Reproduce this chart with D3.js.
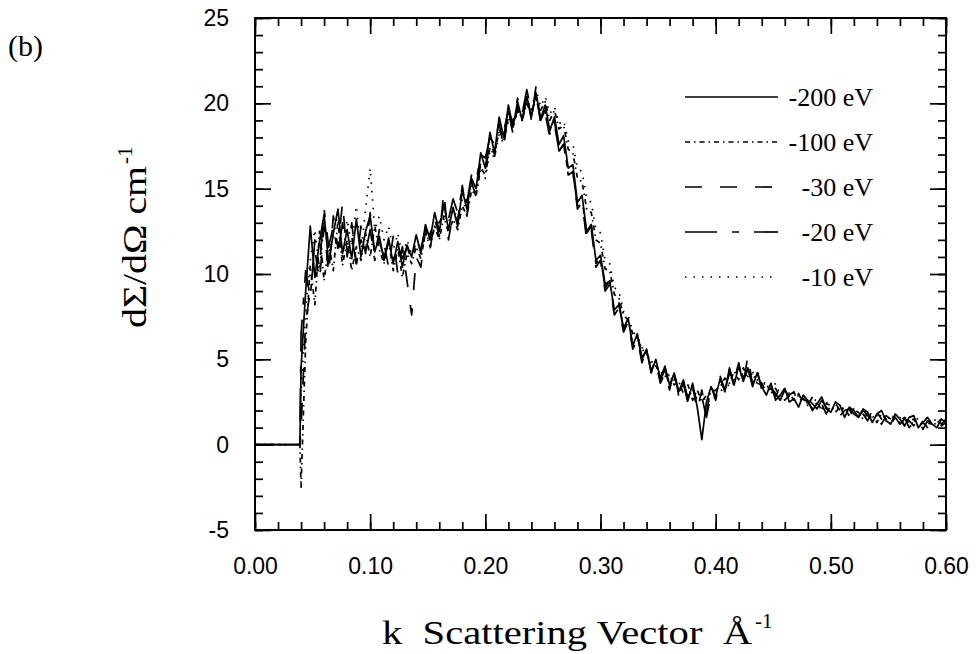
<!DOCTYPE html>
<html>
<head>
<meta charset="utf-8">
<script src="https://cdn.jsdelivr.net/npm/d3@7"></script>
<style>
  body { margin: 0; background: #fff; }
  svg { display: block; }
</style>
</head>
<body>
<script>
// Scattering vector grid, 0.040 .. 0.600 step 0.004 (141 points)
const kValues = d3.range(141).map(i => +(0.040 + i * 0.004).toFixed(3));
// flat leading part before the detector edge
const leadK = [0.000, 0.039];
const leadY = [0, 0];

const seriesNames = ["-200 eV", "-100 eV", "-30 eV", "-20 eV", "-10 eV"];

const ev200 = [4.5, 9.0, 12.8, 9.8, 11.9, 13.5, 10.6, 12.4, 13.8, 11.2,
  12.6, 10.9, 13.2, 11.0, 12.5, 13.4, 11.3, 12.2, 10.8, 12.1,
  10.6, 11.9, 10.4, 11.7, 11.0, 12.3, 11.2, 12.9, 12.0, 13.6,
  12.5, 14.1, 12.6, 13.9, 12.8, 14.9, 13.8, 15.6, 15.0, 17.1,
  16.2, 18.3, 17.1, 19.2, 18.0, 19.9, 18.6, 20.1, 19.0, 20.4,
  19.2, 20.6, 19.1, 19.9, 18.4, 19.2, 17.6, 18.1, 16.2, 16.4,
  14.2, 14.6, 12.5, 12.9, 10.8, 11.1, 9.4, 9.6, 7.9, 8.2,
  6.8, 7.4, 5.8, 6.5, 5.0, 5.6, 4.2, 5.0, 3.9, 4.6,
  3.5, 4.2, 3.1, 3.8, 2.6, 3.6, 2.2, 0.3, 2.5, 3.4,
  2.8, 3.9, 3.1, 4.5, 3.5, 4.6, 3.7, 4.5, 3.4, 4.2,
  3.4, 2.9, 3.6, 2.6, 2.9, 3.3, 2.5, 2.7, 2.2, 2.9,
  2.6, 2.0, 2.4, 2.8, 2.1, 1.9, 2.5, 2.3, 1.6, 2.2,
  2.0, 1.6, 2.1, 1.9, 1.3, 1.8, 2.0, 1.4, 1.2, 1.8,
  1.5, 1.1, 1.6, 1.7, 1.0, 1.3, 1.6, 1.2, 1.0, 1.5, 1.3];

const ev100 = [-2.5, 6.0, 10.5, 8.2, 12.5, 9.6, 11.8, 10.2, 13.1, 10.5,
  12.0, 10.2, 11.6, 10.8, 12.4, 11.0, 12.8, 11.4, 10.6, 11.9,
  10.2, 11.5, 9.8, 11.2, 10.6, 11.6, 10.9, 12.4, 11.6, 12.8,
  12.0, 13.4, 12.4, 13.2, 12.6, 14.0, 13.4, 14.9, 14.6, 16.2,
  15.8, 17.4, 16.9, 18.5, 17.8, 19.2, 18.7, 19.6, 19.1, 20.0,
  19.3, 20.3, 19.6, 20.1, 19.0, 19.6, 18.5, 18.7, 17.3, 17.1,
  15.6, 15.4, 13.8, 13.6, 12.0, 11.8, 10.3, 10.2, 8.8, 8.6,
  7.6, 7.3, 6.5, 6.2, 5.6, 5.3, 4.9, 4.6, 4.3, 4.0,
  4.1, 3.5, 3.7, 3.0, 3.5, 2.6, 3.2, 2.5, 2.9, 3.0,
  3.2, 3.4, 3.9, 3.6, 4.3, 3.8, 4.5, 3.9, 4.2, 3.6,
  3.5, 3.6, 3.0, 3.3, 2.8, 3.2, 3.0, 2.6, 2.9, 2.7,
  2.3, 2.8, 2.5, 2.0, 2.4, 2.3, 1.9, 2.2, 2.1, 1.7,
  2.0, 1.9, 1.5, 1.8, 1.7, 1.3, 1.8, 1.5, 1.2, 1.6,
  1.6, 1.1, 1.4, 1.5, 1.0, 1.4, 1.6, 1.1, 1.3, 1.5, 1.2];

const ev30 = [1.0, 7.2, 9.0, 11.4, 9.6, 12.8, 10.0, 13.4, 11.5, 14.2,
  11.0, 13.0, 10.6, 12.8, 11.2, 13.6, 11.0, 12.6, 11.8, 10.4,
  12.2, 10.0, 11.6, 9.6, 7.6, 11.0, 10.4, 12.6, 11.4, 13.3,
  12.2, 14.8, 12.0, 13.6, 13.1, 15.2, 13.4, 15.4, 14.5, 16.6,
  16.0, 17.8, 17.0, 18.8, 17.4, 19.6, 18.2, 19.8, 18.8, 20.6,
  19.0, 21.0, 18.8, 19.4, 18.0, 19.0, 17.2, 17.6, 15.8, 16.0,
  13.8, 14.2, 12.0, 12.6, 10.4, 10.8, 9.0, 9.4, 7.6, 8.0,
  6.6, 7.2, 5.6, 6.2, 4.8, 5.6, 4.3, 4.8, 3.6, 4.2,
  3.2, 4.4, 2.8, 3.6, 2.4, 3.4, 2.0, 3.2, 1.8, 3.5,
  2.6, 4.0, 3.2, 4.4, 3.4, 4.8, 3.6, 5.2, 3.5, 4.4,
  3.2, 3.7, 3.3, 2.8, 3.4, 2.6, 2.9, 3.1, 2.3, 2.7,
  2.5, 2.1, 2.7, 2.4, 1.8, 2.3, 2.2, 1.7, 2.0, 2.1,
  1.5, 1.9, 1.8, 1.4, 2.0, 1.6, 1.2, 1.7, 1.5, 1.1,
  1.4, 1.6, 1.0, 1.3, 1.5, 0.9, 1.4, 1.2, 1.6, 1.1, 1.3];

const ev20 = [6.5, 10.2, 8.6, 12.0, 10.4, 13.8, 11.6, 12.8, 11.2, 13.0,
  11.4, 12.2, 10.6, 12.0, 11.2, 12.6, 10.8, 11.9, 11.0, 11.8,
  10.8, 11.7, 10.9, 11.6, 10.8, 12.0, 11.5, 12.6, 12.3, 13.2,
  13.0, 13.6, 13.2, 14.4, 13.6, 15.0, 14.2, 15.8, 15.4, 17.0,
  16.8, 18.0, 17.6, 18.9, 18.4, 19.5, 18.9, 20.3, 19.4, 20.8,
  19.5, 20.4, 19.0, 19.6, 18.2, 18.8, 17.2, 17.6, 15.9, 16.0,
  14.0, 14.4, 12.4, 12.8, 10.6, 11.0, 9.2, 9.6, 7.8, 8.3,
  6.8, 7.2, 5.9, 6.4, 5.1, 5.5, 4.4, 4.9, 3.8, 4.4,
  3.4, 4.0, 3.0, 3.6, 2.7, 3.5, 2.4, 2.8, 1.6, 3.0,
  2.7, 3.8, 3.2, 4.2, 3.7, 4.8, 3.9, 4.4, 3.6, 4.1,
  3.6, 3.1, 3.4, 3.0, 2.6, 3.2, 2.8, 2.5, 3.0, 2.4,
  2.7, 2.4, 2.1, 2.6, 2.2, 1.9, 2.4, 2.0, 1.8, 2.2,
  1.8, 1.6, 2.0, 1.7, 1.4, 1.9, 1.5, 1.3, 1.7, 1.6,
  1.2, 1.5, 1.4, 1.1, 1.6, 1.3, 1.0, 1.5, 1.4, 1.2, 1.5];

const ev10 = [3.0, 8.0, 10.8, 12.6, 10.2, 13.0, 11.4, 12.2, 13.6, 10.8,
  13.2, 11.6, 14.0, 11.2, 13.8, 16.2, 12.6, 13.4, 12.0, 12.8,
  11.4, 12.4, 11.0, 12.0, 11.2, 11.8, 11.6, 12.2, 12.0, 12.8,
  12.6, 13.2, 13.0, 13.8, 13.2, 14.4, 13.6, 15.2, 14.8, 16.4,
  15.6, 17.2, 16.8, 18.2, 17.6, 19.0, 18.5, 19.6, 19.0, 20.2,
  19.6, 20.8, 19.8, 20.4, 19.4, 19.8, 18.8, 19.0, 17.8, 17.6,
  16.2, 16.0, 14.4, 14.2, 12.6, 12.4, 10.8, 10.6, 9.2, 9.0,
  7.8, 7.6, 6.6, 6.4, 5.7, 5.4, 4.8, 4.6, 4.2, 4.0,
  3.6, 3.8, 3.2, 3.5, 2.8, 3.3, 2.6, 3.0, 2.4, 2.7,
  2.9, 3.1, 3.4, 3.5, 3.8, 3.9, 4.2, 4.0, 4.3, 3.8,
  3.8, 3.5, 3.2, 3.6, 2.9, 3.1, 2.8, 3.0, 2.6, 2.7,
  2.4, 2.8, 2.3, 2.1, 2.5, 2.2, 1.9, 2.3, 2.0, 1.7,
  2.1, 1.8, 1.6, 1.9, 1.5, 1.7, 1.6, 1.3, 1.8, 1.4,
  1.3, 1.6, 1.4, 1.2, 1.6, 1.3, 1.1, 1.5, 1.4, 1.2, 1.6];

const seriesValues = [ev200, ev100, ev30, ev20, ev10];
const dashes = [null, "5,4,1.5,4", "17,18", "32,15,7,15", "1.5,7"];

const xTickLabels = ["0.00", "0.10", "0.20", "0.30", "0.40", "0.50", "0.60"];
const yTickLabels = ["-5", "0", "5", "10", "15", "20", "25"];

const width = 979, height = 654;
const plotLeft = 255, plotRight = 946, plotTop = 18, plotBottom = 530;
const serif = "'Liberation Serif', 'Times New Roman', serif";
const sans = "'Liberation Sans', Arial, sans-serif";

const svg = d3.select("body").append("svg")
  .attr("width", width)
  .attr("height", height);

const x = d3.scaleLinear().domain([0, 0.6]).range([plotLeft, plotRight]);
const y = d3.scaleLinear().domain([-5, 25]).range([plotBottom, plotTop]);

const xMajor = xTickLabels.map(Number);
const xMinor = d3.range(0, 31).map(i => i * 0.02);
const yMajor = yTickLabels.map(Number);
const yMinor = d3.range(-5, 26);

function styleAxis(g) {
  g.select(".domain").remove();
  g.selectAll("line").attr("stroke", "#000").attr("stroke-width", 1.7);
}

// minor ticks, all four sides (pointing inward)
svg.append("g").attr("transform", `translate(0,${plotBottom})`)
  .call(d3.axisBottom(x).tickValues(xMinor).tickSize(-8).tickFormat(""))
  .call(styleAxis);
svg.append("g").attr("transform", `translate(0,${plotTop})`)
  .call(d3.axisTop(x).tickValues(xMinor).tickSize(-8).tickFormat(""))
  .call(styleAxis);
svg.append("g").attr("transform", `translate(${plotLeft},0)`)
  .call(d3.axisLeft(y).tickValues(yMinor).tickSize(-8).tickFormat(""))
  .call(styleAxis);
svg.append("g").attr("transform", `translate(${plotRight},0)`)
  .call(d3.axisRight(y).tickValues(yMinor).tickSize(-8).tickFormat(""))
  .call(styleAxis);

// major ticks with labels
svg.append("g").attr("transform", `translate(0,${plotBottom})`)
  .call(d3.axisBottom(x).tickValues(xMajor).tickSize(-16).tickPadding(28)
    .tickFormat((d, i) => xTickLabels[i]))
  .call(styleAxis)
  .selectAll("text")
  .attr("fill", "#000")
  .style("font-family", sans)
  .style("font-size", "23px");
svg.append("g").attr("transform", `translate(0,${plotTop})`)
  .call(d3.axisTop(x).tickValues(xMajor).tickSize(-16).tickFormat(""))
  .call(styleAxis);
svg.append("g").attr("transform", `translate(${plotLeft},0)`)
  .call(d3.axisLeft(y).tickValues(yMajor).tickSize(-16).tickPadding(26)
    .tickFormat((d, i) => yTickLabels[i]))
  .call(styleAxis)
  .selectAll("text")
  .attr("fill", "#000")
  .style("font-family", sans)
  .style("font-size", "23px");
svg.append("g").attr("transform", `translate(${plotRight},0)`)
  .call(d3.axisRight(y).tickValues(yMajor).tickSize(-16).tickFormat(""))
  .call(styleAxis);

// frame
svg.append("rect")
  .attr("x", plotLeft).attr("y", plotTop)
  .attr("width", plotRight - plotLeft).attr("height", plotBottom - plotTop)
  .attr("fill", "none").attr("stroke", "#000").attr("stroke-width", 2);

// curves
const line = d3.line().x(d => x(d[0])).y(d => y(d[1]));
seriesValues.forEach((vals, s) => {
  const pts = leadK.map((k, i) => [k, leadY[i]])
    .concat(kValues.map((k, i) => [k, vals[i]]));
  svg.append("path")
    .datum(pts)
    .attr("fill", "none")
    .attr("stroke", "#000")
    .attr("stroke-width", 1.7)
    .attr("stroke-linejoin", "round")
    .attr("stroke-dasharray", dashes[s])
    .attr("d", line);
});

// legend
const legendY = [97, 142, 187, 232, 277];
const legend = svg.append("g");
seriesNames.forEach((name, i) => {
  legend.append("line")
    .attr("x1", 685).attr("x2", 778)
    .attr("y1", legendY[i]).attr("y2", legendY[i])
    .attr("stroke", "#000").attr("stroke-width", 1.7)
    .attr("stroke-dasharray", dashes[i]);
  legend.append("text")
    .attr("x", 873).attr("y", legendY[i]).attr("dy", "0.35em")
    .attr("text-anchor", "end")
    .style("font-family", serif)
    .style("font-size", "26px")
    .text(name);
});

// panel tag
svg.append("text")
  .attr("x", 8).attr("y", 56)
  .style("font-family", serif)
  .style("font-size", "30px")
  .text("(b)");

// y axis title (rotated, reads bottom to top)
svg.append("text")
  .attr("transform", "translate(146,328) rotate(-90)")
  .attr("textLength", 162)
  .attr("lengthAdjust", "spacingAndGlyphs")
  .style("font-family", serif)
  .style("font-size", "34px")
  .text("dΣ/dΩ cm");
svg.append("text")
  .attr("transform", "translate(132,164) rotate(-90)")
  .style("font-family", serif)
  .style("font-size", "21px")
  .text("-1");

// x axis title
svg.append("text")
  .attr("x", 382).attr("y", 644)
  .attr("textLength", 370)
  .attr("lengthAdjust", "spacingAndGlyphs")
  .attr("xml:space", "preserve")
  .style("white-space", "pre")
  .style("font-family", serif)
  .style("font-size", "33px")
  .text("k  Scattering Vector  Å");
svg.append("text")
  .attr("x", 755).attr("y", 628)
  .style("font-family", serif)
  .style("font-size", "21px")
  .text("-1");
</script>
</body>
</html>
